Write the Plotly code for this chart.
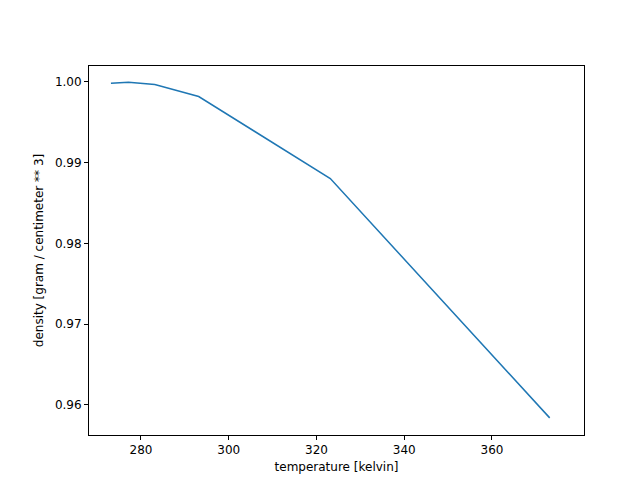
import plotly.graph_objects as go

# water density vs temperature
temperature = [273.15, 277.15, 283.15, 293.15, 323.15, 373.15]
density = [0.99984, 0.99997, 0.99970, 0.99820, 0.98804, 0.95840]

fig = go.Figure()
fig.add_trace(go.Scatter(x=temperature, y=density, mode="lines",
                         line=dict(color="#1f77b4", width=1.5)))

axis_style = dict(showline=True, linecolor="black", linewidth=1, mirror=True,
                  ticks="outside", ticklen=4, tickcolor="black",
                  showgrid=False, zeroline=False, automargin=False,
                  tickfont=dict(size=12, color="black"))

fig.update_layout(
    width=640, height=480,
    margin=dict(l=81, r=64, t=58, b=53),
    plot_bgcolor="white", paper_bgcolor="white",
    font=dict(family="DejaVu Sans", size=12, color="black"),
    showlegend=False,
    xaxis=dict(range=[268.15, 380.97], tickvals=[280, 300, 320, 340, 360],
               title=dict(text="temperature [kelvin]", standoff=6,
                          font=dict(size=12)), **axis_style),
    yaxis=dict(range=[0.95628, 1.00198],
               tickvals=[0.96, 0.97, 0.98, 0.99, 1.00], tickformat=".2f",
               title=dict(text="density [gram / centimeter ** 3]", standoff=8,
                          font=dict(size=12)), **axis_style),
)

fig.write_html("out.html")
